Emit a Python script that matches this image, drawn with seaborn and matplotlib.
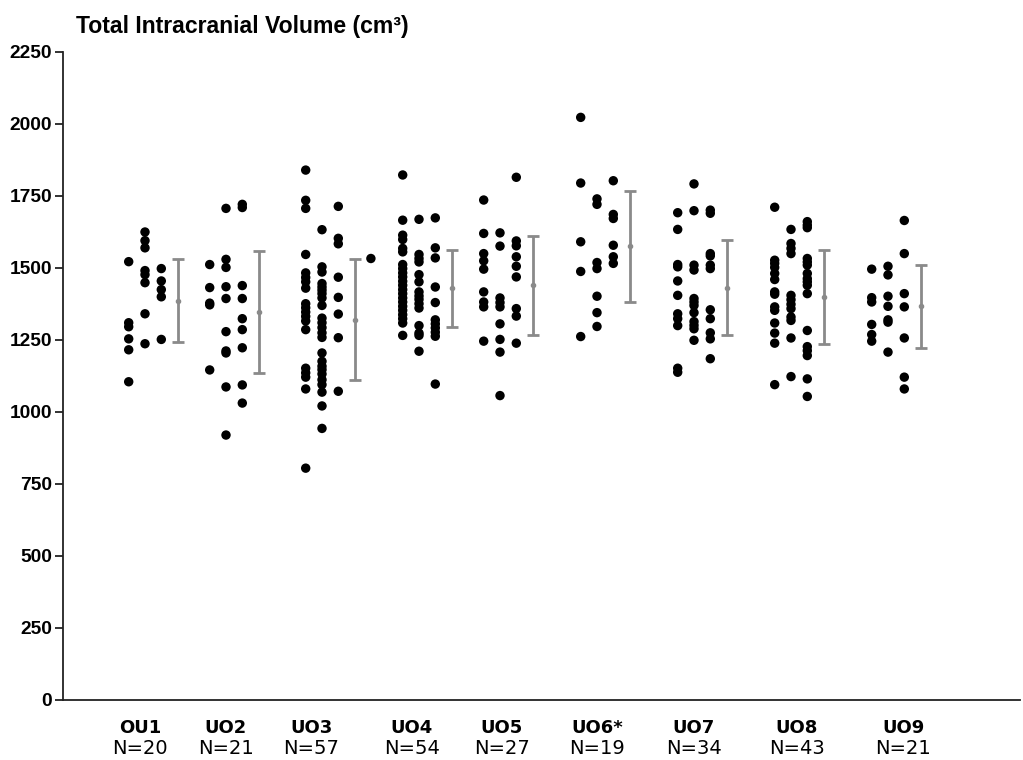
import matplotlib
matplotlib.use("Agg")
import matplotlib.pyplot as plt
import matplotlib.transforms as mtransforms
import seaborn as sns
import pandas as pd
import numpy as np

# ---- data ----
groups = ["OU1", "UO2", "UO3", "UO4", "UO5", "UO6*", "UO7", "UO8", "UO9"]
n_labels = ["N=20", "N=21", "N=57", "N=54", "N=27", "N=19", "N=34", "N=43", "N=21"]

ou1 = [[1522, 1310, 1296, 1254, 1216, 1105],
       [1625, 1595, 1570, 1491, 1477, 1449, 1341, 1237],
       [1498, 1455, 1425, 1400, 1252]]
uo2 = [[1512, 1432, 1378, 1372, 1146],
       [1707, 1530, 1502, 1435, 1394, 1279, 1212, 1205, 1087, 920],
       [1721, 1710, 1439, 1394, 1324, 1286, 1223, 1094, 1031]]
uo3 = [[1840, 1735, 1707, 1547, 1483, 1467, 1452, 1430, 1376, 1362, 1347, 1332,
        1316, 1286, 1152, 1136, 1121, 1080, 805],
       [1633, 1504, 1486, 1446, 1434, 1423, 1411, 1396, 1370, 1326, 1310, 1293,
        1275, 1259, 1205, 1176, 1159, 1147, 1132, 1112, 1095, 1069, 1021, 943],
       [1714, 1603, 1584, 1468, 1398, 1340, 1258, 1072],
       [1533]]
uo4 = [[1823, 1666, 1614, 1599, 1568, 1556, 1512, 1498, 1483, 1469, 1454, 1440,
        1425, 1411, 1396, 1382, 1367, 1353, 1338, 1324, 1309, 1266],
       [1669, 1547, 1533, 1521, 1477, 1452, 1417, 1403, 1391, 1376, 1361, 1300,
        1274, 1266, 1211],
       [1674, 1570, 1535, 1434, 1380, 1320, 1306, 1292, 1277, 1263, 1097]]
uo5 = [[1736, 1620, 1550, 1525, 1496, 1417, 1382, 1365, 1246],
       [1622, 1576, 1396, 1380, 1365, 1306, 1252, 1208, 1057],
       [1815, 1594, 1577, 1539, 1506, 1469, 1359, 1333, 1239]]
uo6 = [[2023, 1795, 1591, 1488, 1262],
       [1740, 1721, 1519, 1498, 1402, 1345, 1297],
       [1803, 1686, 1672, 1579, 1539, 1516]]
uo7 = [[1692, 1634, 1512, 1504, 1455, 1405, 1341, 1324, 1300, 1152, 1138],
       [1792, 1699, 1510, 1493, 1394, 1382, 1370, 1345, 1314, 1301, 1289, 1249],
       [1701, 1690, 1550, 1542, 1510, 1498, 1355, 1324, 1275, 1254, 1185]]
uo8 = [[1711, 1527, 1516, 1502, 1481, 1460, 1417, 1409, 1365, 1353, 1309, 1274,
        1239, 1095],
       [1634, 1585, 1568, 1550, 1405, 1390, 1374, 1359, 1330, 1318, 1257, 1123],
       [1661, 1649, 1640, 1533, 1521, 1510, 1481, 1463, 1452, 1440, 1411, 1283,
        1227, 1213, 1196, 1115, 1054]]
uo9 = [[1496, 1397, 1382, 1304, 1269, 1246],
       [1506, 1476, 1402, 1367, 1320, 1312, 1208],
       [1665, 1550, 1411, 1365, 1257, 1121, 1080]]

group_values = [ou1, uo2, uo3, uo4, uo5, uo6, uo7, uo8, uo9]

means = [1387, 1348, 1320, 1429, 1440, 1576, 1432, 1400, 1367]
sds = [145, 212, 210, 134, 171, 193, 166, 163, 145]

yticks = [0, 250, 500, 750, 1000, 1250, 1500, 1750, 2000, 2250]

# ---- layout (pixel-like x coordinates) ----
centers = [145, 226, 322, 419, 500, 597, 694, 791, 888]
label_x = [140, 226, 311, 412, 502, 597, 694, 797, 903]
col_step = 16.3
col_offsets = [-col_step, 0.0, col_step, 3 * col_step]
bar_offset = 32.5

rows = []
for g, c, cols in zip(groups, centers, group_values):
    for k, vals in enumerate(cols):
        for v in vals:
            rows.append({"group": g, "x": c + col_offsets[k], "value": v})
df = pd.DataFrame(rows)

sns.set_style("white")
plt.rcParams["text.color"] = "black"
plt.rcParams["ytick.color"] = "black"
W, H = 1023, 760
fig = plt.figure(figsize=(W / 100, H / 100), dpi=100)
ax = fig.add_axes([63 / W, (H - 700) / H, (1020 - 63) / W, (700 - 52) / H])

sns.scatterplot(data=df, x="x", y="value", color="black", s=46,
                linewidth=0, edgecolor="none", legend=False, ax=ax, zorder=3)

gray = "#8a8a8a"
ax.errorbar([c + bar_offset for c in centers], means, yerr=sds, fmt="o",
            ms=3, color=gray, ecolor=gray, elinewidth=2.0, capsize=4.5,
            capthick=2, zorder=2)

ax.set_xlim(63, 1020)
ax.set_ylim(0, 2250)
ax.set_yticks(yticks)
ax.set_yticklabels([str(t) for t in yticks], fontsize=13.8, fontweight="bold",
                   family="Liberation Sans", color="black")
ax.tick_params(axis="y", direction="out", length=6, width=1.3, color="#222222",
               pad=2, left=True)
ax.set_xticks([])
ax.set_xlabel("")
ax.set_ylabel("")
for s in ["top", "right"]:
    ax.spines[s].set_visible(False)
for s in ["left", "bottom"]:
    ax.spines[s].set_color("#222222")
    ax.spines[s].set_linewidth(1.3)

trans = mtransforms.blended_transform_factory(ax.transData, fig.transFigure)
for lx, g, n in zip(label_x, groups, n_labels):
    ax.text(lx, 1 - 728 / H, g, transform=trans, ha="center", va="center",
            fontsize=13, family="DejaVu Sans", fontweight="semibold",
            color="black")
    ax.text(lx, 1 - 749 / H, n, transform=trans, ha="center", va="center",
            fontsize=14, family="DejaVu Sans", color="black")

fig.text(76 / W, 1 - 27 / H, "Total Intracranial Volume (cm³)", ha="left",
         va="center", fontsize=16.6, fontweight="bold", family="Liberation Sans",
         color="black")

fig.savefig("out.png", dpi=100)
